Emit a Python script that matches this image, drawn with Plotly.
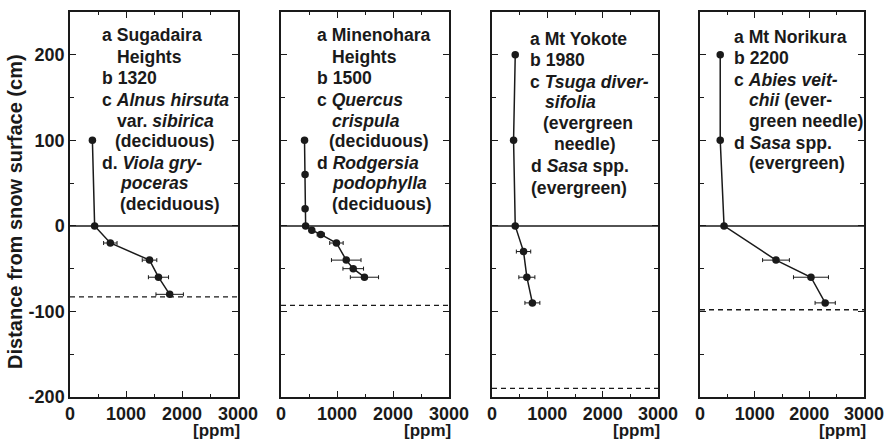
import plotly.graph_objects as go

# ---------------- data ----------------
site_names = ["Sugadaira", "Minenohara", "Yokote", "Norikura"]

ppm1 = [400, 440, 720, 1420, 1580, 1780]
depth1 = [100, 0, -20, -40, -60, -80]
err1 = [0, 0, 120, 130, 180, 245]
snow1 = -83

ppm2 = [420, 430, 430, 440, 550, 710, 990, 1165, 1290, 1490]
depth2 = [100, 60, 20, 0, -5, -10, -20, -40, -50, -60]
err2 = [0, 0, 0, 0, 0, 65, 120, 264, 184, 252]
snow2 = -93

ppm3 = [420, 390, 420, 570, 630, 730]
depth3 = [200, 100, 0, -30, -60, -90]
err3 = [0, 0, 0, 130, 145, 135]
snow3 = -190

ppm4 = [370, 370, 440, 1390, 2030, 2290]
depth4 = [200, 100, 0, -40, -60, -90]
err4 = [0, 0, 0, 245, 320, 185]
snow4 = -98

text1 = ["a Sugadaira", "Heights", "b 1320", "c <i>Alnus hirsuta</i>", "var. <i>sibirica</i>",
         "(deciduous)", "d. <i>Viola gry-</i>", "<i>poceras</i>", "(deciduous)"]
text2 = ["a Minenohara", "Heights", "b 1500", "c <i>Quercus</i>", "<i>crispula</i>",
         "(deciduous)", "d <i>Rodgersia</i>", "<i>podophylla</i>", "(deciduous)"]
text3 = ["a Mt Yokote", "b 1980", "c <i>Tsuga diver-</i>", "<i>sifolia</i>", "(evergreen",
         "needle)", "d <i>Sasa</i> spp.", "(evergreen)"]
text4 = ["a Mt Norikura", "b 2200", "c <i>Abies veit-</i>", "<i>chii</i> (ever-", "green needle)",
         "d <i>Sasa</i> spp.", "(evergreen)"]

x_ticks = [0, 1000, 2000, 3000]
y_ticks = [-200, -100, 0, 100, 200]
x_unit = "[ppm]"
y_title = "Distance from snow surface (cm)"

# ---------------- layout helpers ----------------
W, H = 896, 445
L, R, T, B = 70, 32, 10, 48
PW, PH = W - L - R, H - T - B

def px(x):
    return (x - L) / PW

def py(y):
    return (H - B - y) / PH

panel_px = [(70, 238), (281, 449), (492, 658), (700, 864)]

text_x = [
    [100, 115, 100, 100, 115, 113, 100, 118, 118],
    [315, 330, 315, 315, 330, 327, 315, 330, 330],
    [528, 528, 528, 543, 541, 552, 529, 529],
    [732, 732, 732, 747, 747, 732, 747],
]
text_y = [
    [33.3, 55, 76.7, 98.3, 119.3, 140, 161.7, 181.7, 202.7],
    [33.3, 55, 76.7, 98.3, 119.3, 140, 161.7, 181.7, 202.7],
    [36.7, 58, 80, 100, 122, 143, 165, 187],
    [35, 56.7, 78, 98, 120, 142, 162],
]

FONT = "Liberation Sans, Arial, sans-serif"
INK = "#1a1a1a"

series = [(ppm1, depth1, err1, snow1), (ppm2, depth2, err2, snow2),
          (ppm3, depth3, err3, snow3), (ppm4, depth4, err4, snow4)]
texts = [text1, text2, text3, text4]

fig = go.Figure()
shapes = []
annotations = []
layout = {}

for i, (xs, ys, es, snow) in enumerate(series):
    n = i + 1
    xa = "x" if n == 1 else f"x{n}"
    ya = "y" if n == 1 else f"y{n}"
    fig.add_trace(go.Scatter(
        x=xs, y=ys, xaxis=xa, yaxis=ya, mode="lines+markers",
        name=site_names[i], showlegend=False,
        line=dict(color=INK, width=1.5),
        marker=dict(color=INK, size=7.5),
        error_x=dict(type="data", array=es, color=INK, thickness=1, width=2),
    ))
    x0, x1 = panel_px[i]
    layout["xaxis" if n == 1 else f"xaxis{n}"] = dict(
        domain=[px(x0), px(x1)], anchor=ya, range=[0, 3000],
        tickmode="array", tickvals=x_ticks, ticktext=[f"<b>{v}</b>" for v in x_ticks],
        ticks="inside", ticklen=6, tickwidth=1, tickcolor=INK,
        minor=dict(ticks="inside", ticklen=3, dtick=500, tick0=0, tickcolor=INK, showgrid=False),
        showline=True, linecolor=INK, linewidth=1.5, mirror="ticks",
        showgrid=False, zeroline=False, fixedrange=True,
        tickfont=dict(family=FONT, size=18, color=INK),
    )
    layout["yaxis" if n == 1 else f"yaxis{n}"] = dict(
        domain=[0, 1], anchor=xa, range=[-200, 250],
        tickmode="array", tickvals=y_ticks,
        ticktext=[f"<b>{v}</b>" if n == 1 else "" for v in y_ticks],
        ticks="inside", ticklen=6, tickwidth=1, tickcolor=INK,
        minor=dict(ticks="inside", ticklen=4, dtick=50, tick0=0, tickcolor=INK, showgrid=False),
        showline=True, linecolor=INK, linewidth=1.5, mirror="ticks",
        showgrid=False, zeroline=False, fixedrange=True,
        tickfont=dict(family=FONT, size=18, color=INK),
    )
    # snow surface (0) line and ground (dashed) line
    shapes.append(dict(type="line", xref=f"{xa} domain", yref=ya, x0=0, x1=1, y0=0, y1=0,
                       line=dict(color=INK, width=1.5)))
    shapes.append(dict(type="line", xref=f"{xa} domain", yref=ya, x0=0, x1=1, y0=snow, y1=snow,
                       line=dict(color=INK, width=1.3, dash="5px,4px")))
    # site text
    for t, tx, ty in zip(texts[i], text_x[i], text_y[i]):
        annotations.append(dict(text=f"<b>{t}</b>", xref="paper", yref="paper",
                                x=px(tx), y=py(ty), xanchor="left", yanchor="middle",
                                showarrow=False, font=dict(family=FONT, size=17.6, color=INK)))
    annotations.append(dict(text=f"<b>{x_unit}</b>", xref="paper", yref="paper",
                            x=px(x1 + 4), y=py(431), xanchor="right", yanchor="middle",
                            showarrow=False, font=dict(family=FONT, size=17, color=INK)))

annotations.append(dict(text=f"<b>{y_title}</b>", xref="paper", yref="paper",
                        x=px(15), y=py(211), xanchor="center", yanchor="middle", textangle=-90,
                        showarrow=False, font=dict(family=FONT, size=20, color=INK)))

fig.update_layout(
    width=W, height=H, margin=dict(l=L, r=R, t=T, b=B),
    paper_bgcolor="white", plot_bgcolor="white",
    shapes=shapes, annotations=annotations,
    font=dict(family=FONT, color=INK),
    **layout,
)

fig.write_html("out.html", config={"displayModeBar": False},
               post_script="document.body.style.margin='0';document.body.style.overflow='hidden';")
